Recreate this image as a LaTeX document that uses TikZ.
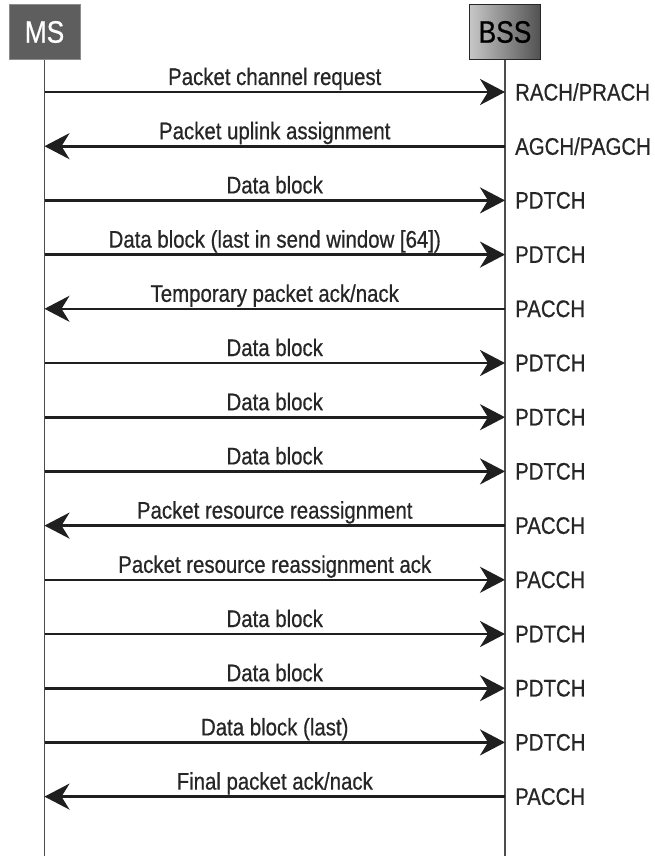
\documentclass[tikz,border=0pt]{standalone}
\usepackage{fontspec}
\setmainfont{Liberation Sans}[FakeStretch=0.85,FakeBold=0.6]
\usetikzlibrary{arrows.meta}

\begin{document}
\begin{tikzpicture}[x=1pt,y=-1pt,
  msg/.style={line width=2.6pt,draw=black!88,-{Stealth[length=25pt,width=26pt,inset=8pt]}},
  life/.style={line width=1.3pt,draw=black!70},
  lbl/.style={font=\fontsize{24}{28}\selectfont,text=black!85,inner sep=0pt,anchor=base},
  chan/.style={font=\fontsize{24}{28}\selectfont,text=black!85,inner sep=0pt,anchor=west},
  entity/.style={minimum width=71pt,minimum height=55pt,font=\fontsize{31}{34}\selectfont,inner sep=0pt,line width=1pt}]
\useasboundingbox (0,0) rectangle (654,856);
\node[entity,fill=black!63,draw=black!45,text=white] (ms) at (44.5,32) {MS};
\node[entity,left color=black!22,right color=black!68,draw=black!85] (bss) at (505,32) {BSS};
\coordinate (msend) at (44.5,856);
\coordinate (bssend) at (505,856);
\draw[life] (ms.south) -- (msend);
\draw[life] (bss.south) -- (bssend);
\foreach \from/\to/\txt/\ch [count=\i] in {%
  ms/bss/{Packet channel request}/{RACH/PRACH},
  bss/ms/{Packet uplink assignment}/{AGCH/PAGCH},
  ms/bss/{Data block}/{PDTCH},
  ms/bss/{Data block (last in send window [64])}/{PDTCH},
  bss/ms/{Temporary packet ack/nack}/{PACCH},
  ms/bss/{Data block}/{PDTCH},
  ms/bss/{Data block}/{PDTCH},
  ms/bss/{Data block}/{PDTCH},
  bss/ms/{Packet resource reassignment}/{PACCH},
  ms/bss/{Packet resource reassignment ack}/{PACCH},
  ms/bss/{Data block}/{PDTCH},
  ms/bss/{Data block}/{PDTCH},
  ms/bss/{Data block (last)}/{PDTCH},
  bss/ms/{Final packet ack/nack}/{PACCH}} {
  \pgfmathsetmacro\y{92+54.2*(\i-1)}
  \coordinate (ms\i) at (44.5,\y);
  \coordinate (bss\i) at (505,\y);
  \draw[msg] (\from\i) -- (\to\i);
  \node[lbl] (m\i) at (274.75,\y-7) {\txt};
  \node[chan] (c\i) at ([xshift=10pt]bss\i) {\ch};
}
\end{tikzpicture}
\end{document}
